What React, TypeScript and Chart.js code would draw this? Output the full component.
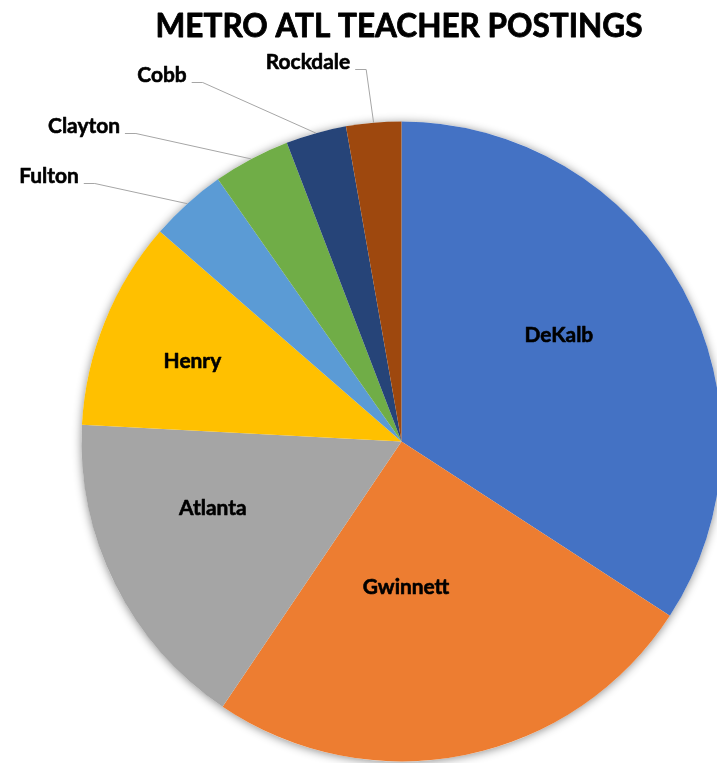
import React, { useEffect, useRef } from "react";
import { Chart, registerables } from "chart.js";

Chart.register(...registerables);

const chartTitle = "METRO ATL TEACHER POSTINGS";
const categories = ["DeKalb", "Gwinnett", "Atlanta", "Henry", "Fulton", "Clayton", "Cobb", "Rockdale"];
const postings = [123, 91, 59, 38, 14, 14, 11, 10];
const sliceColors = ["#4472C4", "#ED7D31", "#A5A5A5", "#FFC000", "#5B9BD5", "#70AD47", "#264478", "#9E480E"];

// inside label placement: [angle offset from slice middle (deg), radius fraction]
const insidePlacement: Record<string, [number, number]> = {
  DeKalb: [-5.6, 0.594],
  Gwinnett: [9.7, 0.455],
  Atlanta: [7.1, 0.625],
  Henry: [-1, 0.7],
};
// outside label placement: text centre x / baseline y relative to pie centre, in radius units
const outsidePlacement: Record<string, [number, number]> = {
  Fulton: [-352.5 / 320, -258.5 / 320],
  Clayton: [-317.5 / 320, -308.5 / 320],
  Cobb: [-239.5 / 320, -359.5 / 320],
  Rockdale: [-93.5 / 320, -372.5 / 320],
};

const FAMILY = "Lato, 'Open Sans', 'DejaVu Sans', sans-serif";

function fitSize(ctx: CanvasRenderingContext2D, text: string, width: number, weight: string) {
  ctx.font = `${weight} 100px ${FAMILY}`;
  const w = ctx.measureText(text).width;
  return (100 * width) / w;
}

function boldText(ctx: CanvasRenderingContext2D, text: string, x: number, y: number, extra: number) {
  ctx.lineWidth = extra;
  ctx.lineJoin = "round";
  ctx.strokeStyle = "#000000";
  ctx.strokeText(text, x, y);
  ctx.fillText(text, x, y);
}

const labelPlugin = {
  id: "pieDecor",
  beforeDatasetsDraw(chart: any) {
    const meta = chart.getDatasetMeta(0);
    const arc = meta.data[0];
    if (!arc) return;
    const ctx = chart.ctx as CanvasRenderingContext2D;
    ctx.save();
    ctx.shadowColor = "rgba(0,0,0,0.45)";
    ctx.shadowBlur = 10;
    ctx.shadowOffsetX = 0;
    ctx.shadowOffsetY = 1;
    ctx.fillStyle = "#ffffff";
    ctx.beginPath();
    ctx.arc(arc.x, arc.y, arc.outerRadius, 0, Math.PI * 2);
    ctx.fill();
    ctx.restore();
  },
  afterDatasetsDraw(chart: any) {
    const ctx = chart.ctx as CanvasRenderingContext2D;
    const meta = chart.getDatasetMeta(0);
    ctx.save();
    // title
    const titleSize = fitSize(ctx, chartTitle, 487, "bold");
    ctx.font = `bold ${titleSize}px ${FAMILY}`;
    ctx.fillStyle = "#000000";
    ctx.textAlign = "center";
    ctx.textBaseline = "alphabetic";
    boldText(ctx, chartTitle, 399, 37, 0.8);

    const labelSize = fitSize(ctx, "Gwinnett", 86.5, "bold");
    ctx.font = `bold ${labelSize}px ${FAMILY}`;
    meta.data.forEach((el: any, i: number) => {
      const name = categories[i];
      const mid = (el.startAngle + el.endAngle) / 2;
      const R = el.outerRadius;
      if (insidePlacement[name]) {
        const [off, frac] = insidePlacement[name];
        const a = mid + (off * Math.PI) / 180;
        const x = el.x + Math.cos(a) * R * frac;
        const y = el.y + Math.sin(a) * R * frac;
        ctx.fillStyle = "#000000";
        ctx.textAlign = "center";
        ctx.textBaseline = "middle";
        boldText(ctx, name, x, y, 0.6);
      } else if (outsidePlacement[name]) {
        const [fx, fy] = outsidePlacement[name];
        const tx = el.x + fx * R;
        const ty = el.y + fy * R;
        ctx.fillStyle = "#000000";
        ctx.textAlign = "center";
        ctx.textBaseline = "alphabetic";
        boldText(ctx, name, tx, ty, 0.6);
        const tw = ctx.measureText(name).width;
        const sx = tx + tw / 2 + 5;
        const ex = sx + 11;
        const px = el.x + Math.cos(mid) * R;
        const py = el.y + Math.sin(mid) * R;
        ctx.strokeStyle = "#A6A6A6";
        ctx.lineWidth = 1;
        ctx.beginPath();
        ctx.moveTo(sx, Math.round(ty) + 0.5);
        ctx.lineTo(ex, Math.round(ty) + 0.5);
        ctx.lineTo(px, py);
        ctx.stroke();
      }
    });
    ctx.restore();
  },
};

export default function App() {
  const canvasRef = useRef<HTMLCanvasElement | null>(null);
  useEffect(() => {
    const canvas = canvasRef.current;
    if (!canvas) return;
    const chart = new Chart(canvas, {
      type: "pie",
      data: {
        labels: categories,
        datasets: [
          {
            data: postings,
            backgroundColor: sliceColors,
            borderWidth: 0,
          },
        ],
      },
      options: {
        responsive: false,
        animation: false,
        devicePixelRatio: 1,
        layout: { padding: { left: 81.5, top: 121.5, right: 38.5, bottom: 1.5 } },
        plugins: {
          legend: { display: false },
          tooltip: { enabled: false },
          title: { display: false },
        },
      },
      plugins: [labelPlugin],
    });
    return () => chart.destroy();
  }, []);
  return (
    <div style={{ position: "fixed", left: 0, top: 0, width: 717, height: 763, overflow: "hidden", background: "#fff" }}>
      <canvas ref={canvasRef} width={760} height={763} style={{ display: "block" }} />
    </div>
  );
}
